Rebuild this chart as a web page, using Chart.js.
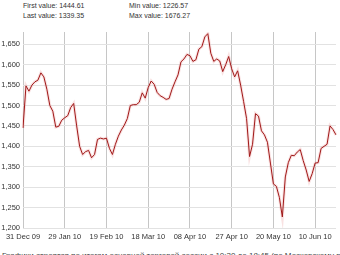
<!DOCTYPE html>
<html>
<head>
<meta charset="utf-8">
<script src="https://cdn.jsdelivr.net/npm/chart.js"></script>
<style>
body{margin:0;width:340px;height:255px;overflow:hidden;background:#fff;font-family:"Liberation Sans",Arial,sans-serif;color:#333}
.info{position:absolute;font-size:7px;line-height:10px}
#box{position:absolute;left:0;top:0;width:340px;height:245px}
.foot{position:absolute;left:2px;top:251px;font-size:8px;white-space:nowrap;color:#444}
</style>
</head>
<body>

<div class="info" style="left:23px;top:1px">First value: 1444.61<br>Last value: 1339.35</div>
<div class="info" style="left:129px;top:1px">Min value: 1226.57<br>Max value: 1676.27</div>

<div id="box"><canvas id="c"></canvas></div>

<div class="foot">Графики строятся по итогам основной торговой сессии с 10:30 до 18:45 (по Московскому времени)</div>

<script>
/* =========================
   DATA
========================= */
const tickDates = ["31 Dec 09","29 Jan 10","19 Feb 10","18 Mar 10","08 Apr 10","27 Apr 10","20 May 10","10 Jun 10"];
const tickEvery = 14;

const values = [
 1445,1548,1535,1550,1558,1562,1580,1570,1540,1500,
 1486,1447,1449,1464,1470,1475,1495,1505,1450,1400,
 1380,1387,1390,1372,1380,1417,1420,1418,1420,1395,
 1380,1405,1425,1440,1452,1468,1500,1502,1502,1508,
 1531,1518,1544,1560,1552,1532,1524,1520,1515,1517,
 1540,1558,1575,1607,1614,1625,1622,1608,1612,1638,
 1644,1668,1676,1628,1608,1614,1609,1583,1600,1620,
 1590,1570,1585,1550,1510,1468,1375,1405,1480,1474,
 1438,1428,1410,1359,1308,1302,1275,1227,1325,1360,
 1378,1377,1386,1392,1365,1342,1314,1333,1359,1360,
 1395,1400,1405,1450,1441,1428
];

const yMin = 1200, yMax = 1680, yStep = 50;

/* =========================
   CHART
========================= */
const labels = values.map((v,i) => i % tickEvery === 0 ? (tickDates[i / tickEvery] || "") : "");
const font = {family:"Liberation Sans", size:7.5};

new Chart(document.getElementById("c"), {
 type: "line",
 data: {
  labels: labels,
  datasets: [
   {data: values, borderColor: "#a01818", borderWidth: 1, pointRadius: 0, tension: 0},
   {data: values, borderColor: "rgba(235,160,160,0.3)", borderWidth: 3, pointRadius: 0, tension: 0}
  ]
 },
 options: {
  responsive: true,
  maintainAspectRatio: false,
  animation: false,
  layout: {padding: {top: 32, right: 0, left: 0, bottom: 0}},
  plugins: {legend: {display: false}, tooltip: {enabled: false}},
  scales: {
   x: {
    offset: false,
    border: {display: false},
    grid: {
     drawTicks: false,
     color: c => (c.index % tickEvery === 0) ? "#c6c6c6" : "rgba(0,0,0,0)",
     lineWidth: 1
    },
    ticks: {autoSkip: false, maxRotation: 0, minRotation: 0, padding: 4, color: "#333", font: font},
    afterFit: a => { a.height = 17; }
   },
   y: {
    min: yMin, max: yMax,
    border: {display: false},
    grid: {drawTicks: false, color: "#e2e2e2", lineWidth: 1},
    ticks: {
     stepSize: yStep, padding: 3, color: "#333", font: font,
     callback: v => v.toLocaleString("en-US")
    },
    afterBuildTicks: a => { a.ticks = a.ticks.filter(t => t.value % yStep === 0); },
    afterFit: a => { a.width = 23; }
   }
  }
 }
});
</script>

</body>
</html>
